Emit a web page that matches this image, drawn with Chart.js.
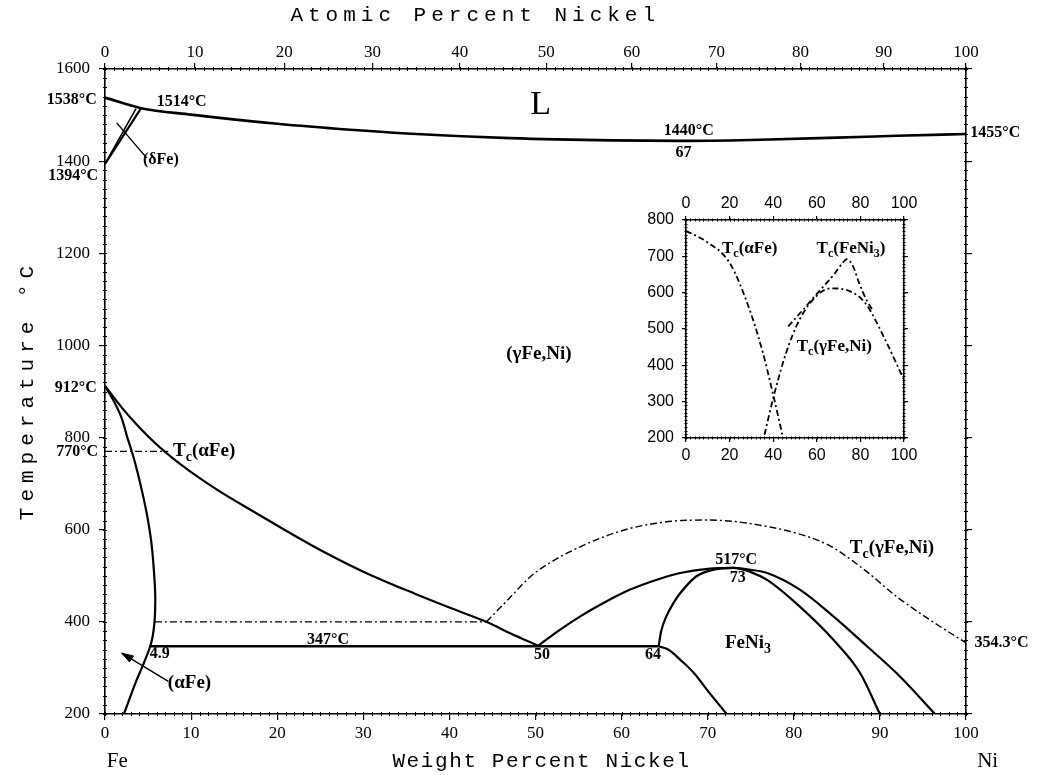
<!DOCTYPE html>
<html>
<head>
<meta charset="utf-8">
<script src="https://cdn.jsdelivr.net/npm/chart.js@4.4.0/dist/chart.umd.min.js"></script>
<style>
  html, body { margin: 0; padding: 0; background: #fff; }
  #wrap { position: relative; width: 1037px; height: 775px; }
  #main { position: absolute; left: 0; top: 0; }
  #inset { position: absolute; left: 630px; top: 180px; }
</style>
</head>
<body>
<div id="wrap">
  <canvas id="main" width="1037" height="775"></canvas>
  <canvas id="inset" width="300" height="290"></canvas>
</div>
<script>
// ---- data: [weight % Ni, temperature °C] ----
const liquidus = [[0,1538],[4.2,1515],[10,1501],[20,1481],[28.5,1468],[35,1460],[47,1450],[59,1445],[67,1444],[75,1446],[85,1451],[92,1455],[100,1459]]
const deltaInner = [[0,1394],[3.6,1514]]
const deltaOuter = [[0,1394],[4.2,1515]]
const gammaSolvus = [[0,912],[2,864],[4,822],[6,785],[8,753],[10,725],[13,687],[16,653],[20,609],[25,556],[30,509],[36,461],[40,431],[44.3,400],[47,376],[50.3,348]]
const alphaSolvus = [[0,912],[1.0,880],[1.86,846],[2.6,800],[3.29,759],[4.1,700],[4.84,636],[5.4,570],[5.72,500],[5.84,450],[5.75,400],[5.5,365],[5.23,346],[4.5,310],[3.68,274],[2.2,200]]
const curieAlpha = [[0,770],[7.35,770]]
const curie400 = [[5.8,400],[44.3,400]]
const eutectoid = [[5.2,347],[64.3,347]]
const curieGamma = [[44.3,400],[47,452],[49.4,498],[52,532],[55.2,563],[58,585],[61,603],[64,614],[67,620],[70,621],[73,618],[76,610],[80,594],[84,567],[88,516],[92,454],[96,402],[100,354.3]]
const feNi3Upper = [[50.3,348],[52.7,381],[55.2,412],[58,442],[61,470],[64,491],[66.8,506],[70,515],[73,517],[75,513],[76.9,506],[80.7,470],[84.6,412],[88.5,347],[92.3,282],[96.4,200]]
const feNi3Inner = [[64.3,347],[64.6,380],[65.2,412],[66,440],[66.8,462],[68.7,499],[70.7,513],[73,517],[75,508],[76.9,491],[80.7,433],[84.6,361],[87.7,289],[90,200]]
const feNi3Lower = [[64.3,347],[65.5,339],[66.8,318],[68.5,287],[69.9,253],[72.2,200]]
const deltaLeader = [[1.36,1483],[4.84,1407]]
const alphaLeader = [[1.94,332],[7.35,271]]
const alphaArrowHead = [[2.85,313],[1.94,332],[3.3,326],[2.85,313]]

// inset: magnetic transitions
const insetCurieAlpha = [[0,770],[9.5,740],[20.1,681],[29.2,553],[35.3,434],[39.8,324],[44.4,204]]
const insetCurieGamma = [[36,209],[39.8,305],[45.9,434],[52,525],[59.5,589],[66.4,612],[73.2,608],[82.3,571],[91.4,470],[100,360]]
const insetCurieFeNi3 = [[46.9,507],[55,562],[62,610],[68,651],[72,683],[73.6,692],[75,688],[76.7,672],[79.5,625],[82.8,580],[86,548]]

// tick labels
const weightTicks = [0,10,20,30,40,50,60,70,80,90,100]
const atomicTicks = [0,10,20,30,40,50,60,70,80,90,100]
const tempTicks = [200,400,600,800,1000,1200,1400,1600]
const insetXTicks = [0,20,40,60,80,100]
const insetYTicks = [200,300,400,500,600,700,800]

// annotations: text, x, T, align, style
const mainLabels = [
  ['1538°C', -0.95, 1533, 'right'],
  ['1514°C', 6.0, 1528, 'left'],
  ['L', 50.6, 1522, 'center', 'big'],
  ['1440°C', 67.8, 1465, 'center'],
  ['67', 67.2, 1418, 'center'],
  ['1455°C', 100.5, 1461, 'left'],
  ['(δFe)', 4.4, 1403, 'left'],
  ['1394°C', -0.8, 1367, 'right'],
  ['912°C', -0.95, 908, 'right'],
  ['770°C', -0.8, 768, 'right'],
  ['T_c(αFe)', 7.9, 770, 'left', 'tc'],
  ['(γFe,Ni)', 50.4, 982, 'center', 'tc'],
  ['T_c(γFe,Ni)', 86.5, 560, 'left', 'tc'],
  ['517°C', 73.3, 534, 'center'],
  ['73', 73.5, 496, 'center'],
  ['347°C', 25.9, 361, 'center'],
  ['4.9', 5.2, 331, 'left'],
  ['50', 50.75, 329, 'center'],
  ['64', 63.65, 329, 'center'],
  ['FeNi_3', 72.0, 353, 'left', 'tc'],
  ['354.3°C', 101, 355, 'left'],
  ['(αFe)', 7.3, 266, 'left', 'tc'],
  ['Fe', 0.2, 96, 'left', 'name'],
  ['Ni', 101.3, 96, 'left', 'name']
]
const insetLabels = [
  ['T_c(αFe)', 16.5, 722, 'left'],
  ['T_c(FeNi_3)', 59.9, 722, 'left'],
  ['T_c(γFe,Ni)', 50.8, 452, 'left']
]

const FE = 55.845, NI = 58.693
const atToWt = a => 100 * a * NI / (a * NI + (100 - a) * FE)
const SERIF = "'Liberation Serif', 'DejaVu Serif', serif"
const MONO = "'Liberation Mono', 'DejaVu Sans Mono', monospace"
const DASHDOT = [7, 3, 2, 3]

const range = (a, b, s) => { const r = []; for (let v = a; v <= b + 1e-9; v += s) r.push(v); return r }

function line(data, extra = {}) {
  return Object.assign({
    data: data.map(([x, y]) => ({ x, y })),
    showLine: true, pointRadius: 0, borderColor: '#000', borderWidth: 2.2,
    cubicInterpolationMode: 'monotone', fill: false
  }, extra)
}

// text with "_x" meaning subscript x
function richText(ctx, text, x, y, align, size, weight) {
  const parts = []
  for (let i = 0; i < text.length; i++) {
    if (text[i] === '_') { parts.push([text[i + 1], true]); i++ }
    else parts.push([text[i], false])
  }
  const f = (sub) => `${weight} ${sub ? Math.round(size * 0.72) : size}px ${SERIF}`
  let w = 0
  parts.forEach(([c, sub]) => { ctx.font = f(sub); w += ctx.measureText(c).width })
  let cx = align === 'right' ? x - w : align === 'center' ? x - w / 2 : x
  ctx.textAlign = 'left'
  ctx.textBaseline = 'middle'
  parts.forEach(([c, sub]) => {
    ctx.font = f(sub)
    ctx.fillText(c, cx, sub ? y + size * 0.32 : y)
    cx += ctx.measureText(c).width
  })
}

function notesPlugin(labels, styles) {
  return {
    id: 'notes',
    afterDatasetsDraw(chart) {
      const ctx = chart.ctx, sx = chart.scales.x, sy = chart.scales.y
      ctx.save()
      ctx.fillStyle = '#000'
      labels.forEach(([t, x, T, align, kind]) => {
        const st = styles[kind || 'default']
        richText(ctx, t, sx.getPixelForValue(x), sy.getPixelForValue(T), align, st.size, st.weight)
      })
      ctx.restore()
    }
  }
}

const minorTicks = {
  id: 'minorTicks',
  afterDraw(chart, args, opts) {
    const ctx = chart.ctx, a = chart.chartArea
    ctx.save()
    ctx.strokeStyle = '#000'
    ctx.lineWidth = 1
    ;(opts.list || []).forEach(m => {
      const s = chart.scales[m.axis]
      m.values.forEach(v => {
        const p = Math.round(s.getPixelForValue(v)) + 0.5
        ctx.beginPath()
        if (s.isHorizontal()) {
          const y = s.position === 'top' ? a.top : a.bottom
          ctx.moveTo(p, y - m.len); ctx.lineTo(p, y + m.len)
        } else {
          const x = s.position === 'left' ? a.left : a.right
          ctx.moveTo(x - m.len, p); ctx.lineTo(x + m.len, p)
        }
        ctx.stroke()
      })
    })
    ctx.restore()
  }
}

const titles = {
  id: 'titles',
  afterDraw(chart) {
    const ctx = chart.ctx, sx = chart.scales.x
    ctx.save()
    ctx.fillStyle = '#000'
    ctx.textAlign = 'center'
    ctx.textBaseline = 'middle'
    ctx.font = `21px ${MONO}`
    ctx.letterSpacing = '5px'
    ctx.fillText('Atomic Percent Nickel', sx.getPixelForValue(43), 15)
    ctx.letterSpacing = '1.6px'
    ctx.fillText('Weight Percent Nickel', sx.getPixelForValue(50.7), 761)
    ctx.letterSpacing = '6px'
    ctx.translate(27, 390)
    ctx.rotate(-Math.PI / 2)
    ctx.fillText('Temperature °C', 0, 0)
    ctx.restore()
  }
}

function axis(extra) {
  return Object.assign({
    type: 'linear',
    grid: { drawOnChartArea: false, drawTicks: true, tickLength: 6, color: '#000', lineWidth: 1.2 },
    border: { display: true, color: '#000', width: 1.6 }
  }, extra)
}
const tickFont = { family: SERIF, size: 17 }
const plain = v => String(Math.round(v))
const fixTicks = (vals) => (s) => { s.ticks = vals.map(v => ({ value: v })) }

new Chart(document.getElementById('main'), {
  type: 'scatter',
  data: {
    datasets: [
      line(liquidus, { borderWidth: 2.6 }),
      line(deltaInner, { borderWidth: 1.6 }),
      line(deltaOuter, { borderWidth: 2.2 }),
      line(gammaSolvus),
      line(alphaSolvus, { indexAxis: 'y' }),
      line(curieAlpha, { borderWidth: 1.4, borderDash: DASHDOT }),
      line(curie400, { borderWidth: 1.4, borderDash: DASHDOT }),
      line(eutectoid, { borderWidth: 2.4 }),
      line(curieGamma, { borderWidth: 1.4, borderDash: DASHDOT }),
      line(feNi3Upper),
      line(feNi3Inner),
      line(feNi3Lower),
      line(deltaLeader, { borderWidth: 1.4 }),
      line(alphaLeader, { borderWidth: 1.4 }),
      line(alphaArrowHead, { borderWidth: 1, cubicInterpolationMode: 'default', tension: 0,
        fill: 'shape', backgroundColor: '#000' })
    ]
  },
  options: {
    responsive: false,
    devicePixelRatio: 1,
    animation: false,
    events: [],
    layout: { padding: 0 },
    plugins: {
      legend: { display: false },
      tooltip: { enabled: false },
      minorTicks: {
        list: [
          { axis: 'x', values: range(0, 100, 1), len: 2 },
          { axis: 'x2', values: range(0, 100, 1).map(atToWt), len: 2 },
          { axis: 'y', values: range(200, 1600, 20), len: 2 },
          { axis: 'y2', values: range(200, 1600, 20), len: 2 }
        ]
      }
    },
    scales: {
      x: axis({ position: 'bottom', min: 0, max: 100,
        afterBuildTicks: fixTicks(weightTicks),
        afterFit: s => { s.height = 61 },
        ticks: { autoSkip: false, maxRotation: 0, padding: 3, color: '#000', font: tickFont, callback: plain } }),
      x2: axis({ position: 'top', min: 0, max: 100,
        afterBuildTicks: s => { s.ticks = atomicTicks.map(a => ({ value: atToWt(a) })) },
        afterFit: s => { s.height = 69 },
        ticks: { autoSkip: false, maxRotation: 0, padding: 0, color: '#000', font: tickFont,
          callback: (v, i) => String(atomicTicks[i]) } }),
      y: axis({ position: 'left', min: 200, max: 1600,
        afterBuildTicks: fixTicks(tempTicks),
        afterFit: s => { s.width = 105 },
        ticks: { autoSkip: false, padding: 9, color: '#000', font: tickFont, callback: plain } }),
      y2: axis({ position: 'right', min: 200, max: 1600,
        afterBuildTicks: fixTicks(tempTicks),
        afterFit: s => { s.width = 71 },
        ticks: { display: false } })
    }
  },
  plugins: [minorTicks, titles, notesPlugin(mainLabels, {
    default: { size: 16, weight: 'bold' },
    big: { size: 34, weight: 'normal' },
    tc: { size: 19, weight: 'bold' },
    name: { size: 21, weight: 'normal' }
  })]
})

const insetFont = { family: "'Liberation Sans', Arial, sans-serif", size: 16 }
function insetAxis(extra) {
  const a = axis(extra)
  a.grid.tickLength = 4
  return a
}

new Chart(document.getElementById('inset'), {
  type: 'scatter',
  data: {
    datasets: [
      line(insetCurieAlpha, { borderWidth: 1.8, borderDash: [6, 3, 2, 3] }),
      line(insetCurieGamma, { borderWidth: 1.8, borderDash: [6, 3, 2, 3] }),
      line(insetCurieFeNi3, { borderWidth: 1.8, borderDash: [6, 3, 2, 3] })
    ]
  },
  options: {
    responsive: false,
    devicePixelRatio: 1,
    animation: false,
    events: [],
    layout: { padding: 0 },
    plugins: {
      legend: { display: false },
      tooltip: { enabled: false },
      minorTicks: {
        list: [
          { axis: 'x', values: range(0, 100, 2), len: 1.5 },
          { axis: 'x2', values: range(0, 100, 2), len: 1.5 },
          { axis: 'y', values: range(200, 800, 10), len: 1.5 },
          { axis: 'y2', values: range(200, 800, 10), len: 1.5 }
        ]
      }
    },
    scales: {
      x: insetAxis({ position: 'bottom', min: 0, max: 100,
        afterBuildTicks: fixTicks(insetXTicks),
        afterFit: s => { s.height = 32 },
        ticks: { autoSkip: false, maxRotation: 0, padding: 4, color: '#000', font: insetFont, callback: plain } }),
      x2: insetAxis({ position: 'top', min: 0, max: 100,
        afterBuildTicks: fixTicks(insetXTicks),
        afterFit: s => { s.height = 40 },
        ticks: { autoSkip: false, maxRotation: 0, padding: 3, color: '#000', font: insetFont, callback: plain } }),
      y: insetAxis({ position: 'left', min: 200, max: 800,
        afterBuildTicks: fixTicks(insetYTicks),
        afterFit: s => { s.width = 56 },
        ticks: { autoSkip: false, padding: 8, color: '#000', font: insetFont, callback: plain } }),
      y2: insetAxis({ position: 'right', min: 200, max: 800,
        afterBuildTicks: fixTicks(insetYTicks),
        afterFit: s => { s.width = 26 },
        ticks: { display: false } })
    }
  },
  plugins: [minorTicks, notesPlugin(insetLabels, { default: { size: 17, weight: 'bold' } })]
})
</script>
</body>
</html>
